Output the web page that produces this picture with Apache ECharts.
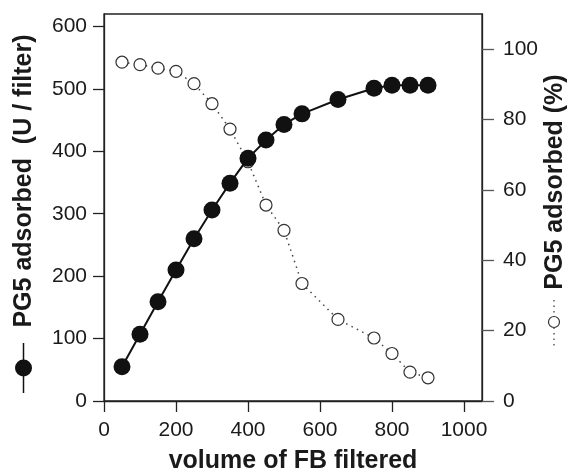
<!DOCTYPE html>
<html>
<head>
<meta charset="utf-8">
<script src="https://cdn.jsdelivr.net/npm/echarts@6/dist/echarts.min.js"></script>
<style>
html,body{margin:0;padding:0;background:#fff;}
#chart{width:567px;height:472px;}
</style>
</head>
<body>
<div id="chart"></div>
<script>
// Data
var volumeFiltered = [50, 100, 150, 200, 250, 300, 350, 400, 450, 500, 550, 650, 750, 800, 850, 900];
var pg5UnitsPerFilter = [55, 107, 159, 210, 260, 306, 349, 389, 418, 443, 460, 483, 501, 506, 506, 506];
var pg5PercentAdsorbed = [96.3, 95.6, 94.6, 93.7, 90.2, 84.5, 77.3, 68, 55.7, 48.5, 33.4, 23.2, 17.9, 13.5, 8.2, 6.6];
var xTicks = [0, 200, 400, 600, 800, 1000];
var leftTicks = [0, 100, 200, 300, 400, 500, 600];
var rightTicks = [0, 20, 40, 60, 80, 100];

var FONT = '"Liberation Sans", Arial, Helvetica, sans-serif';
var INK = '#1a1a1a';

function pairs(xs, ys) { return xs.map(function (x, i) { return [x, ys[i]]; }); }
function plain(v) { return String(v); }

var chart = echarts.init(document.getElementById('chart'), null, { renderer: 'canvas' });
chart.setOption({
  animation: false,
  backgroundColor: '#fff',
  grid: { left: 104, right: 85, top: 14, bottom: 71, show: true, borderColor: '#222', borderWidth: 1.3, backgroundColor: 'transparent' },
  xAxis: {
    type: 'value', min: 0, max: 1050, interval: 200,
    axisLine: { show: true, onZero: false, lineStyle: { color: '#222', width: 1.3 } },
    axisTick: { show: true, inside: false, length: 11, customValues: xTicks, lineStyle: { color: '#222', width: 1.3 } },
    axisLabel: { customValues: xTicks, formatter: plain, margin: 19, fontSize: 21, fontFamily: FONT, color: INK },
    splitLine: { show: false }
  },
  yAxis: [
    {
      type: 'value', min: 0, max: 620, interval: 100, position: 'left',
      axisLine: { show: true, lineStyle: { color: '#222', width: 1.3 } },
      axisTick: { show: true, inside: false, length: 11, customValues: leftTicks, lineStyle: { color: '#222', width: 1.3 } },
      axisLabel: { customValues: leftTicks, formatter: plain, margin: 17, fontSize: 21, fontFamily: FONT, color: INK },
      splitLine: { show: false }
    },
    {
      type: 'value', min: 0, max: 110, interval: 20, position: 'right',
      axisLine: { show: true, lineStyle: { color: '#222', width: 1.3 } },
      axisTick: { show: true, inside: false, length: 12, customValues: rightTicks, lineStyle: { color: '#555', width: 1.3 } },
      axisLabel: { customValues: rightTicks, formatter: plain, margin: 21, fontSize: 21, fontFamily: FONT, color: INK },
      splitLine: { show: false }
    }
  ],
  series: [
    {
      name: 'PG5 adsorbed (%)', type: 'line', yAxisIndex: 1, z: 2,
      data: pairs(volumeFiltered, pg5PercentAdsorbed),
      symbol: 'circle', symbolSize: 12, showAllSymbol: true,
      itemStyle: { color: '#fff', borderColor: '#333', borderWidth: 1.2 },
      lineStyle: { color: '#444', width: 1.5, type: [1.5, 4.5] }
    },
    {
      name: 'PG5 adsorbed (U / filter)', type: 'line', yAxisIndex: 0, z: 3,
      data: pairs(volumeFiltered, pg5UnitsPerFilter),
      symbol: 'circle', symbolSize: 17, showAllSymbol: true,
      itemStyle: { color: '#111', borderColor: '#111', borderWidth: 0 },
      lineStyle: { color: '#111', width: 2 }
    }
  ],
  graphic: [
    { type: 'text', x: 293, y: 461, style: { text: 'volume of FB filtered', font: 'bold 25px ' + FONT, fill: INK, align: 'center', verticalAlign: 'middle' } },
    { type: 'text', x: 24, y: 181, rotation: Math.PI / 2, style: { text: 'PG5 adsorbed  (U / filter)', font: 'bold 25px ' + FONT, fill: INK, align: 'center', verticalAlign: 'middle' } },
    { type: 'line', shape: { x1: 23.5, y1: 343, x2: 23.5, y2: 393 }, style: { stroke: '#111', lineWidth: 1.5 } },
    { type: 'circle', shape: { cx: 23.5, cy: 368, r: 8.5 }, style: { fill: '#111' } },
    { type: 'text', x: 555, y: 182, rotation: Math.PI / 2, style: { text: 'PG5 adsorbed (%)', font: 'bold 25px ' + FONT, fill: INK, align: 'center', verticalAlign: 'middle' } },
    { type: 'line', shape: { x1: 554, y1: 300, x2: 554, y2: 346 }, style: { stroke: '#444', lineWidth: 1.3, lineDash: [1.5, 4] } },
    { type: 'circle', shape: { cx: 554, cy: 322, r: 5.5 }, style: { fill: '#fff', stroke: '#333', lineWidth: 1.2 } }
  ]
});
</script>
</body>
</html>
